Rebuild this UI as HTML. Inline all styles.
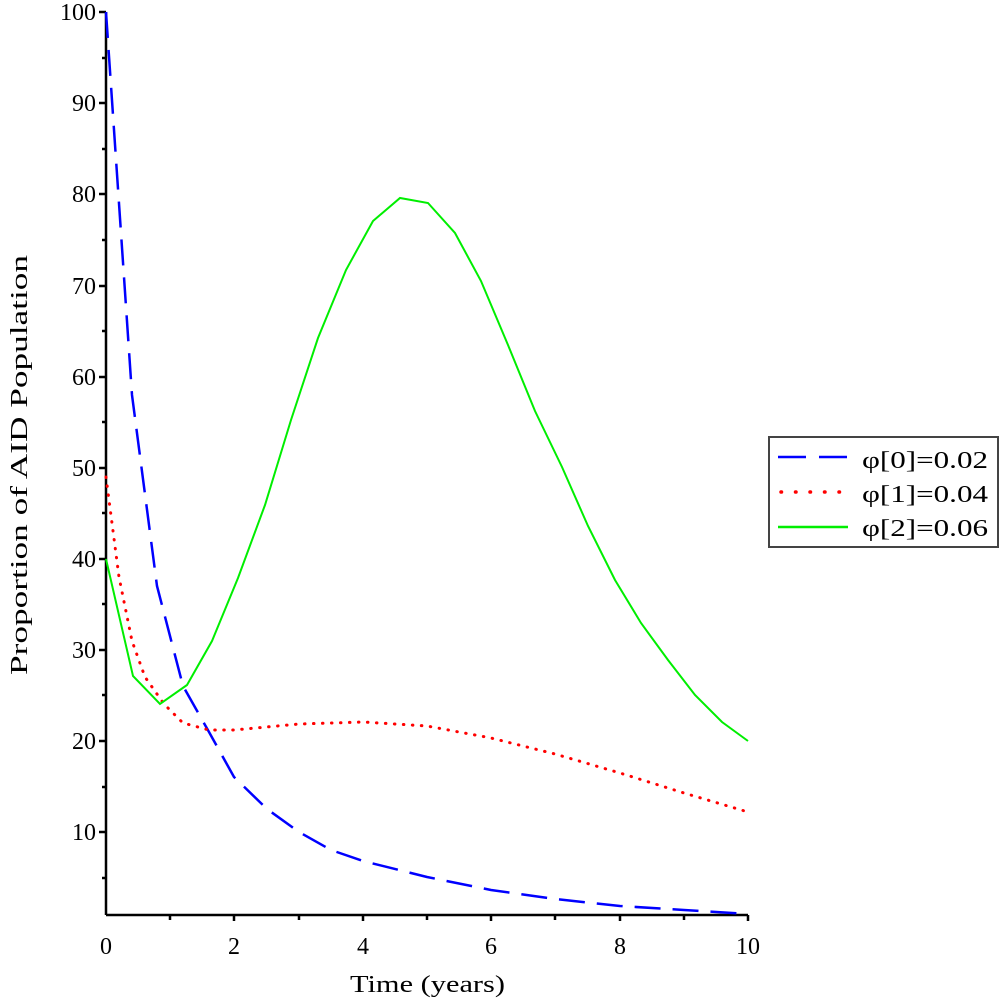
<!DOCTYPE html>
<html><head><meta charset="utf-8"><style>
body{margin:0;background:#fff}
svg text{font-family:"Liberation Serif",serif;font-size:24px;fill:#000}
</style></head><body>
<svg width="1004" height="1002" xmlns="http://www.w3.org/2000/svg">
<g stroke="#000" stroke-width="2.5" fill="none">
<line x1="106" y1="12" x2="106" y2="915"/>
<line x1="106" y1="915" x2="748" y2="915"/>
<path d="M99 12H106M99 103H106M99 194H106M99 286H106M99 377H106M99 468H106M99 559H106M99 650H106M99 741H106M99 832H106"/>
<path d="M102 58H106M102 149H106M102 240H106M102 331H106M102 422H106M102 513H106M102 604H106M102 695H106M102 787H106M102 878H106"/>
<path d="M170 915V920M234 915V921M299 915V920M363 915V921M427 915V920M491 915V921M555 915V920M620 915V921M684 915V920M748 915V921"/>
</g>
<g text-anchor="end">
<text x="96" y="20">100</text><text x="96" y="111">90</text><text x="96" y="202">80</text><text x="96" y="294">70</text><text x="96" y="385">60</text><text x="96" y="476">50</text><text x="96" y="567">40</text><text x="96" y="658">30</text><text x="96" y="749">20</text><text x="96" y="840">10</text>
</g>
<g text-anchor="middle">
<text x="106" y="954">0</text><text x="234" y="954">2</text><text x="363" y="954">4</text><text x="491" y="954">6</text><text x="620" y="954">8</text><text x="748" y="954">10</text>
</g>
<text x="350" y="992" textLength="155" lengthAdjust="spacingAndGlyphs">Time (years)</text>
<text transform="translate(27,675) rotate(-90)" textLength="420" lengthAdjust="spacingAndGlyphs">Proportion of AID Population</text>
<polyline fill="none" stroke="#0000ff" stroke-width="2.5" stroke-dasharray="26,12" points="106,12 132,395 157,586 183,686 209,732 234,777 267,809 299,832 331,850 363,861 427,877 491,890 555,899 620,906 684,910 748,914"/>
<polyline fill="none" stroke="#ff0000" stroke-width="3" stroke-dasharray="0.5,8.5" stroke-linecap="round" points="106,477 119,577 132,641 145,677 164,704 183,723 209,730 234,730 299,724 363,722 427,726 491,738 555,754 620,773 684,793 748,812"/>
<polyline fill="none" stroke="#00ee00" stroke-width="2" points="106,559 133,676 160,704 187,685 212,641 238,578 265,505 291,420 318,338 346,270 373,221 400,198 428,203 455,233 481,281 508,345 535,411 562,467 588,526 615,580 641,623 668,660 695,695 722,722 748,741"/>
<rect x="769" y="437" width="229" height="110" fill="#fff" stroke="#444" stroke-width="2"/>
<line x1="778" y1="457" x2="848" y2="457" stroke="#0000ff" stroke-width="2.5" stroke-dasharray="28,13"/>
<line x1="781" y1="492" x2="840" y2="492" stroke="#ff0000" stroke-width="3.5" stroke-dasharray="0.5,14" stroke-linecap="round"/>
<line x1="778" y1="527" x2="848" y2="527" stroke="#00ee00" stroke-width="2.5"/>
<text x="862" y="468" textLength="126" lengthAdjust="spacingAndGlyphs">φ[0]=0.02</text>
<text x="862" y="502" textLength="126" lengthAdjust="spacingAndGlyphs">φ[1]=0.04</text>
<text x="862" y="536" textLength="126" lengthAdjust="spacingAndGlyphs">φ[2]=0.06</text>
</svg>
</body></html>
